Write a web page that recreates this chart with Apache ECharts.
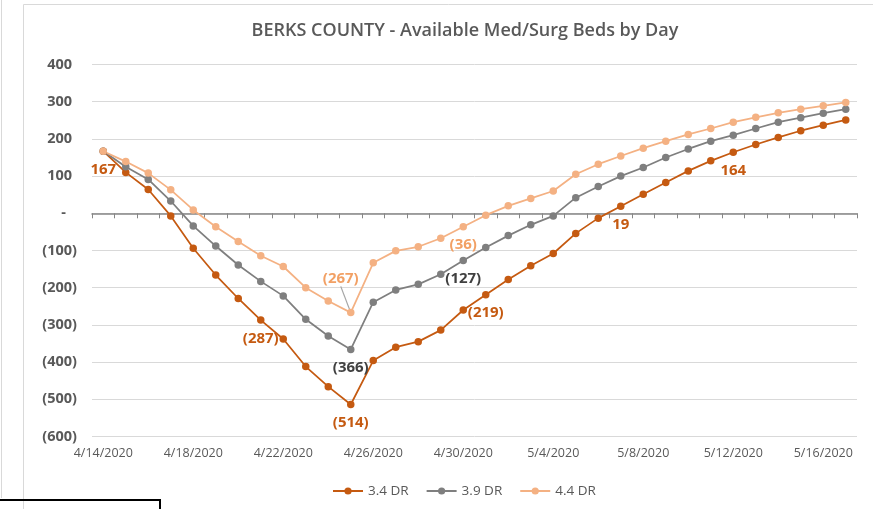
<!DOCTYPE html>
<html>
<head>
<meta charset="utf-8">
<script src="https://cdn.jsdelivr.net/npm/echarts@6/dist/echarts.min.js"></script>
<style>
  html, body { margin: 0; padding: 0; background: #fff; }
  #chart { width: 873px; height: 509px; }
</style>
</head>
<body>
<div id="chart"></div>
<script>
  // dates on the x axis
  let dates = [
    '4/14/2020', '4/15/2020', '4/16/2020', '4/17/2020', '4/18/2020', '4/19/2020', '4/20/2020',
    '4/21/2020', '4/22/2020', '4/23/2020', '4/24/2020', '4/25/2020', '4/26/2020', '4/27/2020',
    '4/28/2020', '4/29/2020', '4/30/2020', '5/1/2020', '5/2/2020', '5/3/2020', '5/4/2020',
    '5/5/2020', '5/6/2020', '5/7/2020', '5/8/2020', '5/9/2020', '5/10/2020', '5/11/2020',
    '5/12/2020', '5/13/2020', '5/14/2020', '5/15/2020', '5/16/2020', '5/17/2020'
  ];

  // available beds per scenario
  let dr34 = [167, 110, 64, -7, -94, -166, -229, -287, -338, -412, -466, -514, -396, -360, -345, -314, -260,
    -219, -178, -141, -108, -54, -13, 19, 51, 83, 114, 141, 164, 185, 204, 222, 237, 251];
  let dr39 = [167, 125, 91, 33, -34, -88, -139, -183, -222, -285, -330, -366, -239, -206, -191, -164, -127,
    -92, -60, -31, -7, 42, 72, 100, 123, 150, 173, 194, 210, 228, 245, 257, 269, 280];
  let dr44 = [167, 139, 108, 63, 9, -36, -76, -114, -143, -200, -236, -267, -133, -101, -90, -67, -36,
    -5, 20, 40, 60, 105, 132, 154, 175, 194, 212, 228, 245, 258, 270, 280, 289, 298];

  // which points carry a data label
  let labels34 = [0, 7, 11, 17, 23, 28];
  let labels39 = [11, 16];
  let labels44 = [11, 16];

  let fmt = (v) => v < 0 ? '(' + (-v) + ')' : String(v);

  function buildData(values, labelIdx, color, moved) {
    return values.map((v, i) => {
      if (labelIdx.indexOf(i) < 0) return v;
      let item = {
        value: v,
        label: {
          show: true,
          position: 'bottom',
          distance: 7,
          color: color,
          fontFamily: 'Open Sans',
          fontWeight: 'bold',
          fontSize: 15,
          formatter: (p) => fmt(p.value)
        }
      };
      if (moved === i) {
        item.labelLine = { show: true, lineStyle: { color: '#A6A6A6', width: 1.25 } };
      }
      return item;
    });
  }

  let chart = echarts.init(document.getElementById('chart'));

  let makeSeries = (name, color, data) => ({
    name: name,
    type: 'line',
    data: data,
    symbol: 'circle',
    symbolSize: 7.5,
    lineStyle: { color: color, width: 1.75 },
    itemStyle: { color: color },
    emphasis: { disabled: true },
    animation: false
  });

  let light = makeSeries('4.4 DR', '#F4B183', buildData(dr44, labels44, '#F2A064', 11));
  // the (267) label sits up and to the left, with a leader line
  light.labelLayout = (p) => p.dataIndex === 11 ? { dx: -10, dy: -52 } : {};

  chart.setOption({
    animation: false,
    textStyle: { fontFamily: 'Open Sans' },
    title: {
      text: 'BERKS COUNTY - Available Med/Surg Beds by Day',
      left: 460,
      top: 17,
      textAlign: 'center',
      textStyle: { fontFamily: 'Open Sans', fontSize: 18, fontWeight: 600, color: '#595959' }
    },
    graphic: [
      { type: 'rect', shape: { x: 23.5, y: 4.5, width: 900, height: 600 }, style: { fill: 'none', stroke: '#D9D9D9', lineWidth: 1 }, silent: true },
      { type: 'line', shape: { x1: 1.5, y1: 0, x2: 1.5, y2: 498 }, style: { stroke: '#D9D9D9', lineWidth: 1 }, silent: true },
      { type: 'rect', shape: { x: -5, y: 500, width: 165, height: 30 }, style: { fill: 'none', stroke: '#000', lineWidth: 2 }, silent: true }
    ],
    legend: {
      left: 327,
      top: 479,
      itemWidth: 30,
      itemHeight: 9,
      itemGap: 17,
      textStyle: { color: '#595959', fontSize: 13.5, fontFamily: 'Open Sans' },
      data: ['3.4 DR', '3.9 DR', '4.4 DR']
    },
    grid: { left: 92, right: 16, top: 64.5, bottom: 72.5, containLabel: false },
    xAxis: [{
      type: 'category',
      data: dates,
      position: 'bottom',
      axisLine: { show: false, onZero: false },
      axisTick: { show: false },
      axisLabel: { interval: 3, color: '#595959', fontSize: 12.5, margin: 10 },
      splitLine: { show: false }
    }, {
      // zero line with the small day ticks
      type: 'category',
      data: dates,
      position: 'bottom',
      axisLine: { show: true, onZero: true, lineStyle: { color: '#868686', width: 1.5 } },
      axisTick: { show: true, interval: 0, length: 5, lineStyle: { color: '#868686' } },
      axisLabel: { show: false },
      splitLine: { show: false }
    }],
    yAxis: {
      type: 'value',
      min: -600,
      max: 400,
      interval: 100,
      axisLine: { show: false },
      axisTick: { show: false },
      splitLine: { lineStyle: { color: '#D9D9D9', width: 1 } },
      axisLabel: {
        margin: 15,
        formatter: (v) => v === 0 ? '{z|-}' : v < 0 ? '{n|(' + (-v) + ')}' : '{p|' + v + '}',
        rich: {
          z: { color: '#595959', fontWeight: 'bold', fontSize: 14.5, padding: [0, 11, 0, 0] },
          n: { color: '#595959', fontWeight: 'bold', fontSize: 14.5 },
          p: { color: '#595959', fontWeight: 'bold', fontSize: 14.5, padding: [0, 5, 0, 0] }
        }
      }
    },
    series: [
      makeSeries('3.4 DR', '#C55A11', buildData(dr34, labels34, '#C55A11')),
      makeSeries('3.9 DR', '#7F7F7F', buildData(dr39, labels39, '#404040')),
      light
    ]
  });
</script>
</body>
</html>
